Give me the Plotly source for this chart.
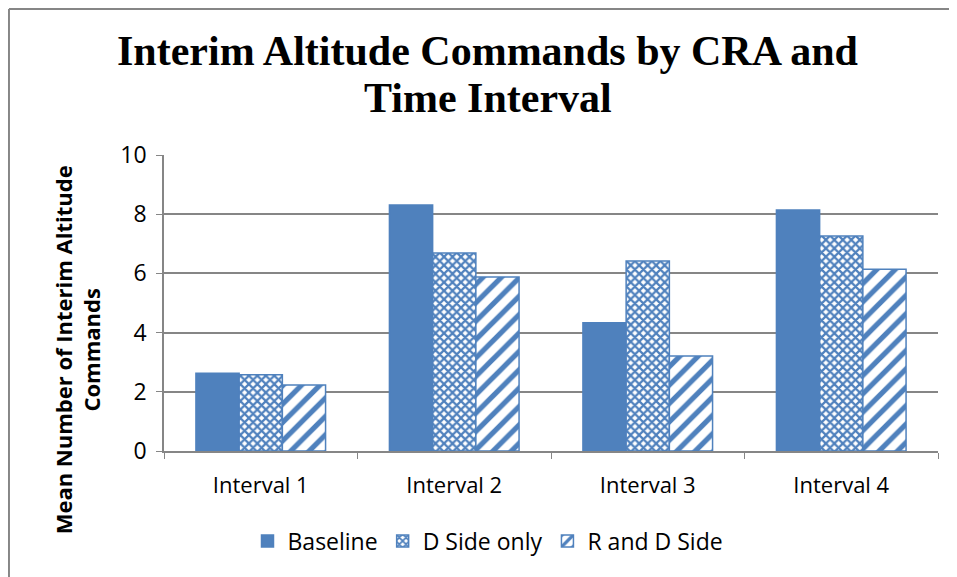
import plotly.graph_objects as go

intervals = ["Interval 1", "Interval 2", "Interval 3", "Interval 4"]
baseline = [2.63, 8.31, 4.33, 8.14]
d_side_only = [2.58, 6.69, 6.42, 7.26]
r_and_d_side = [2.23, 5.88, 3.21, 6.14]

BLUE = "#4F81BD"
GREY = "#868686"
SANS = "Open Sans"

fig = go.Figure()
fig.add_trace(go.Bar(
    x=intervals, y=baseline, name="Baseline",
    marker=dict(color=BLUE, line=dict(color=BLUE, width=1.5))
))
fig.add_trace(go.Bar(
    x=intervals, y=d_side_only, name="D Side only",
    marker=dict(
        color=BLUE,
        line=dict(color=BLUE, width=1.5),
        pattern=dict(shape="x", fgcolor=BLUE, bgcolor="white", size=6, solidity=0.6, fillmode="replace")
    )
))
fig.add_trace(go.Bar(
    x=intervals, y=r_and_d_side, name="R and D Side",
    marker=dict(
        color=BLUE,
        line=dict(color=BLUE, width=1.5),
        pattern=dict(shape="/", fgcolor=BLUE, bgcolor="white", size=13, solidity=0.4, fillmode="replace")
    )
))

title_font = dict(family="Liberation Serif", size=42, color="black")

# page body adds an 8px offset, so the figure is made a little smaller
fig.update_layout(
    barmode="group",
    bargap=0.33,
    bargroupgap=0,
    width=949, height=569,
    plot_bgcolor="white",
    paper_bgcolor="white",
    font=dict(family=SANS, color="black", size=22),
    margin=dict(l=156, r=19, t=147, b=126),
    xaxis=dict(
        showline=True, linecolor=GREY, linewidth=1.5,
        ticks="outside", tickson="boundaries", ticklen=6, tickcolor=GREY,
        tickfont=dict(family=SANS, size=22), ticklabelstandoff=14,
    ),
    yaxis=dict(
        range=[0, 10], dtick=2,
        showline=True, linecolor=GREY, linewidth=1.5,
        showgrid=True, gridcolor=GREY, gridwidth=1.5,
        ticks="outside", ticklen=6, tickcolor=GREY,
        tickfont=dict(family=SANS, size=23), ticklabelstandoff=5,
        zeroline=False,
    ),
    showlegend=True,
    legend=dict(
        orientation="h", x=0.4186, xanchor="center", y=-0.304, yanchor="middle",
        font=dict(family=SANS, size=23), traceorder="normal", itemwidth=30,
    ),
    annotations=[
        # title split in two so the line spacing can be set
        dict(
            text="<b>Interim Altitude Commands by CRA and</b>",
            xref="paper", yref="paper", x=0.4186, y=1.3514,
            xanchor="center", yanchor="middle", showarrow=False, font=title_font,
        ),
        dict(
            text="<b>Time Interval</b>",
            xref="paper", yref="paper", x=0.4186, y=1.1926,
            xanchor="center", yanchor="middle", showarrow=False, font=title_font,
        ),
        dict(
            text="<b>Mean Number of Interim Altitude<br>Commands</b>",
            xref="paper", yref="paper", x=-0.1124, y=0.34,
            xanchor="center", yanchor="middle", showarrow=False, textangle=-90,
            font=dict(family=SANS, size=22, color="black"),
        ),
    ],
    shapes=[
        dict(type="line", xref="paper", yref="paper", x0=-0.2003, x1=1.1, y0=1.4932, y1=1.4932,
             line=dict(color=GREY, width=2)),
        dict(type="line", xref="paper", yref="paper", x0=-0.2003, x1=-0.2003, y0=1.4932, y1=-0.6,
             line=dict(color=GREY, width=2)),
    ],
)

fig.write_html("out.html")
